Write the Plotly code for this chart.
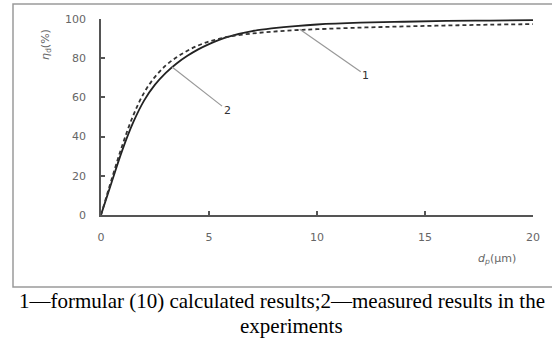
import plotly.graph_objects as go

# data
d_formula = [0, 0.5, 1, 1.5, 2, 2.5, 3, 3.5, 4, 4.5, 5, 5.5, 6, 7, 8, 9, 10, 12, 14, 16, 18, 20]
eta_formula = [0, 17, 33.5, 47.5, 58.5, 66.5, 72.5, 77.3, 81.2, 84.5, 87.2, 89.5, 91.3, 93.8, 95.3, 96.4, 97.2, 98.1, 98.6, 99.0, 99.2, 99.4]

d_measured = [0, 0.5, 1, 1.5, 2, 2.5, 3, 3.5, 4, 4.5, 5, 5.5, 6, 7, 8, 9, 10, 12, 14, 16, 18, 20]
eta_measured = [0, 18.5, 36, 51, 62.5, 70.5, 76.3, 80.5, 83.8, 86.5, 88.5, 90, 91.2, 92.6, 93.6, 94.3, 94.8, 95.6, 96.2, 96.7, 97.1, 97.4]

x_ticks = [0, 5, 10, 15, 20]
y_ticks = [0, 20, 40, 60, 80, 100]

W, H = 552, 341
L, R, T, B = 101, 533, 19, 215

def px(xp):
    return (xp - L) / (R - L)

def py(yp):
    return (B - yp) / (B - T)

fig = go.Figure()
fig.add_trace(go.Scatter(x=d_formula, y=eta_formula, mode="lines",
                         line=dict(color="#222222", width=1.8, shape="spline"),
                         showlegend=False))
fig.add_trace(go.Scatter(x=d_measured, y=eta_measured, mode="lines",
                         line=dict(color="#333333", width=1.8, dash="4px,3px", shape="spline"),
                         showlegend=False))

tickfont = dict(family="DejaVu Sans", size=11, color="#666666")

fig.update_xaxes(range=[0, 20], tickvals=x_ticks, showgrid=False, zeroline=False,
                 showline=True, linecolor="#555555", linewidth=1.5,
                 ticks="inside", ticklen=4, tickcolor="#555555", tickwidth=1.5,
                 tickfont=tickfont, ticklabelstandoff=11)
fig.update_yaxes(range=[0, 100], tickvals=y_ticks, showgrid=False, zeroline=False,
                 showline=True, linecolor="#555555", linewidth=1.5,
                 ticks="inside", ticklen=4, tickcolor="#555555", tickwidth=1.5,
                 tickfont=tickfont, ticklabelstandoff=11)

annos = [
    dict(x=9.2, y=94.8, xref="x", yref="y", text="1", showarrow=True, arrowhead=0,
         arrowcolor="#999999", arrowwidth=1.2, ax=66, ay=46,
         font=dict(family="DejaVu Sans", size=11, color="#333333")),
    dict(x=3.29, y=75.5, xref="x", yref="y", text="2", showarrow=True, arrowhead=0,
         arrowcolor="#999999", arrowwidth=1.2, ax=55, ay=43,
         font=dict(family="DejaVu Sans", size=11, color="#333333")),
    dict(x=px(46), y=py(44), xref="paper", yref="paper", text="<i>η</i><sub>d</sub>(%)",
         showarrow=False, textangle=-90, xanchor="center", yanchor="middle",
         font=dict(family="DejaVu Sans", size=11, color="#666666")),
    dict(x=px(497), y=py(259), xref="paper", yref="paper", text="<i>d</i><sub><i>p</i></sub>(μm)",
         showarrow=False, xanchor="center", yanchor="middle",
         font=dict(family="DejaVu Sans", size=11, color="#666666")),
    dict(x=px(282), y=py(301), xref="paper", yref="paper",
         text="1—formular (10) calculated results;2—measured results in the",
         showarrow=False, xanchor="center", yanchor="middle",
         font=dict(family="Liberation Serif", size=21, color="#000000")),
    dict(x=px(291), y=py(326), xref="paper", yref="paper", text="experiments",
         showarrow=False, xanchor="center", yanchor="middle",
         font=dict(family="Liberation Serif", size=21, color="#000000")),
]

shapes = [
    dict(type="rect", xref="paper", yref="paper", x0=px(13), x1=px(560), y0=py(287), y1=py(4),
         line=dict(color="#9a9a9a", width=1.5), fillcolor="rgba(0,0,0,0)", layer="below"),
]

fig.update_layout(width=W, height=H, margin=dict(l=L, r=W - R, t=T, b=H - B),
                  paper_bgcolor="white", plot_bgcolor="white",
                  annotations=annos, shapes=shapes)

fig.write_html("out.html", config={"displayModeBar": False},
               post_script="document.body.style.margin='0px';")
